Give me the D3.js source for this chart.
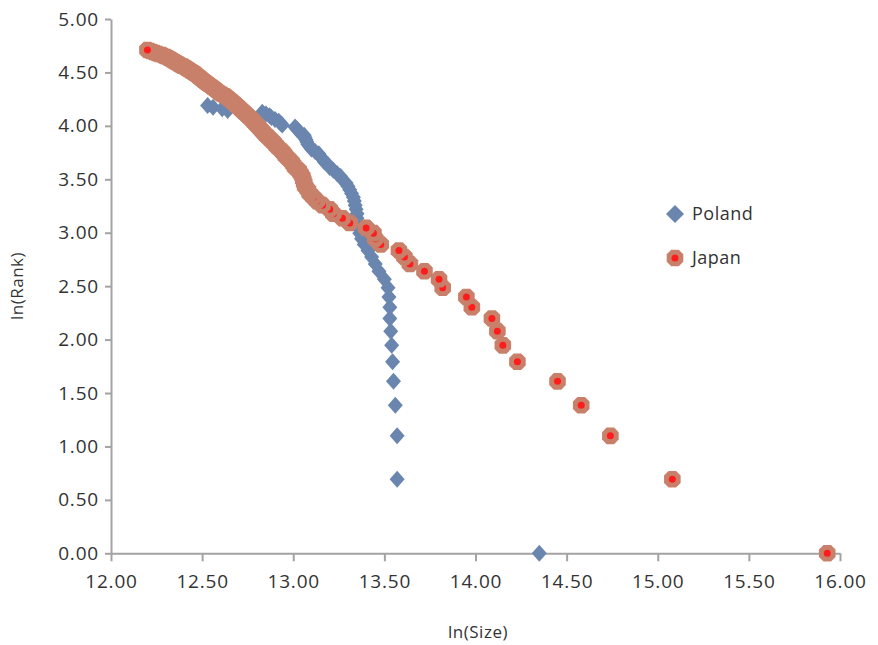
<!DOCTYPE html>
<html>
<head>
<meta charset="utf-8">
<script src="https://cdn.jsdelivr.net/npm/d3@7"></script>
<style>
  html, body { margin: 0; padding: 0; background: #fff; }
  svg { display: block; font-family: "Open Sans", "Noto Sans", sans-serif; }
</style>
</head>
<body>
<svg id="chart" width="878" height="645"></svg>
<script>
// ---- data ----
const seriesNames = ["Poland", "Japan"];

const polandLnSize = [14.35, 13.57, 13.57, 13.56, 13.55, 13.545, 13.54, 13.535, 13.53, 13.53,
  13.525, 13.52, 13.50, 13.47, 13.45, 13.43, 13.41, 13.39, 13.375, 13.365,
  13.36, 13.355, 13.35, 13.35, 13.345, 13.34, 13.335, 13.33, 13.32, 13.31,
  13.30, 13.29, 13.27, 13.26, 13.24, 13.22, 13.20, 13.19, 13.17, 13.16,
  13.15, 13.14, 13.12, 13.10, 13.09, 13.08, 13.075, 13.07, 13.065, 13.06,
  13.04, 13.03, 13.02, 13.01, 12.94, 12.93, 12.92, 12.90, 12.88, 12.87,
  12.85, 12.83, 12.64, 12.61, 12.56, 12.53];
const polandLnRank = [0.000, 0.693, 1.099, 1.386, 1.609, 1.792, 1.946, 2.079, 2.197, 2.303,
  2.398, 2.485, 2.565, 2.639, 2.708, 2.773, 2.833, 2.890, 2.944, 2.996,
  3.045, 3.091, 3.135, 3.178, 3.219, 3.258, 3.296, 3.332, 3.367, 3.401,
  3.434, 3.466, 3.497, 3.526, 3.555, 3.584, 3.611, 3.638, 3.664, 3.689,
  3.714, 3.738, 3.761, 3.784, 3.807, 3.829, 3.850, 3.871, 3.892, 3.912,
  3.932, 3.951, 3.970, 3.989, 4.007, 4.025, 4.043, 4.060, 4.078, 4.094,
  4.111, 4.127, 4.143, 4.159, 4.174, 4.190];

const japanLnSize = [15.93, 15.08, 14.74, 14.58, 14.45, 14.23, 14.15, 14.12, 14.09, 13.98,
  13.95, 13.82, 13.80, 13.72, 13.64, 13.61, 13.58, 13.48, 13.45, 13.44,
  13.40, 13.31, 13.27, 13.22, 13.20, 13.16, 13.13, 13.11, 13.09, 13.08,
  13.065, 13.06, 13.055, 13.05, 13.04, 13.03, 13.01, 13.00, 12.99, 12.975,
  12.96, 12.95, 12.94, 12.925, 12.91, 12.90, 12.89, 12.875, 12.865, 12.85,
  12.84, 12.83, 12.82, 12.81, 12.80, 12.79, 12.78, 12.775, 12.76, 12.75,
  12.74, 12.73, 12.72, 12.71, 12.70, 12.69, 12.68, 12.67, 12.66, 12.65,
  12.64, 12.63, 12.615, 12.60, 12.59, 12.58, 12.57, 12.56, 12.55, 12.54,
  12.53, 12.52, 12.51, 12.50, 12.495, 12.485, 12.475, 12.47, 12.46, 12.45,
  12.44, 12.43, 12.42, 12.41, 12.40, 12.385, 12.375, 12.365, 12.355, 12.345,
  12.335, 12.325, 12.315, 12.305, 12.29, 12.28, 12.26, 12.245, 12.23, 12.215,
  12.20];
const japanLnRank = [0.000, 0.693, 1.099, 1.386, 1.609, 1.792, 1.946, 2.079, 2.197, 2.303,
  2.398, 2.485, 2.565, 2.639, 2.708, 2.773, 2.833, 2.890, 2.944, 2.996,
  3.045, 3.091, 3.135, 3.178, 3.219, 3.258, 3.296, 3.332, 3.367, 3.401,
  3.434, 3.466, 3.497, 3.526, 3.555, 3.584, 3.611, 3.638, 3.664, 3.689,
  3.714, 3.738, 3.761, 3.784, 3.807, 3.829, 3.850, 3.871, 3.892, 3.912,
  3.932, 3.951, 3.970, 3.989, 4.007, 4.025, 4.043, 4.060, 4.078, 4.094,
  4.111, 4.127, 4.143, 4.159, 4.174, 4.190, 4.205, 4.220, 4.234, 4.248,
  4.263, 4.277, 4.290, 4.304, 4.317, 4.331, 4.344, 4.357, 4.369, 4.382,
  4.394, 4.407, 4.419, 4.431, 4.443, 4.454, 4.466, 4.477, 4.489, 4.500,
  4.511, 4.522, 4.533, 4.543, 4.554, 4.564, 4.575, 4.585, 4.595, 4.605,
  4.615, 4.625, 4.635, 4.644, 4.654, 4.663, 4.673, 4.682, 4.691, 4.700,
  4.710];

const xTicks = [12.0, 12.5, 13.0, 13.5, 14.0, 14.5, 15.0, 15.5, 16.0];
const yTicks = [0.0, 0.5, 1.0, 1.5, 2.0, 2.5, 3.0, 3.5, 4.0, 4.5, 5.0];
const xTitle = "ln(Size)";
const yTitle = "ln(Rank)";

// ---- drawing ----
const svg = d3.select("#chart");
const x = d3.scaleLinear().domain([12, 16]).range([111, 840]);
const y = d3.scaleLinear().domain([0, 5]).range([553.3, 19]);

const axisColor = "#a3a3a3";
const textColor = "#333333";
const blue = "#6a86af";
const salmon = "#c8806a";
const red = "#ff1c1c";

const xAxis = svg.append("g")
  .attr("transform", `translate(0,${y(0)})`)
  .call(d3.axisBottom(x).tickValues(xTicks).tickFormat(d3.format(".2f"))
    .tickSize(8).tickSizeOuter(0).tickPadding(13));
const yAxis = svg.append("g")
  .attr("transform", `translate(${x(12)},0)`)
  .call(d3.axisLeft(y).tickValues(yTicks).tickFormat(d3.format(".2f"))
    .tickSize(6).tickSizeOuter(0).tickPadding(6));

[xAxis, yAxis].forEach(g => {
  g.select(".domain").attr("stroke", axisColor).attr("stroke-width", 2);
  g.selectAll(".tick line").attr("stroke", axisColor).attr("stroke-width", 2);
  g.selectAll(".tick text").attr("fill", textColor)
    .style("font-size", "19px").style("letter-spacing", "0.8px")
    .style("font-family", "'Open Sans', sans-serif");
});

// axis titles
svg.append("text")
  .attr("x", 478).attr("y", 638)
  .attr("text-anchor", "middle")
  .attr("fill", textColor)
  .style("font-size", "17px").style("letter-spacing", "0.5px")
  .text(xTitle);
svg.append("text")
  .attr("transform", "translate(23,286) rotate(-90)")
  .attr("text-anchor", "middle")
  .attr("fill", textColor)
  .style("font-size", "17px").style("letter-spacing", "0.5px")
  .text(yTitle);

const diamond = (hw, hh) => `M0,${-hh}L${hw},0L0,${hh}L${-hw},0Z`;
// rounded-corner octagon marker like the reference
const octagon = (r) => {
  const c = r * 0.45;
  return `M${-c},${-r}L${c},${-r}L${r},${-c}L${r},${c}L${c},${r}L${-c},${r}L${-r},${c}L${-r},${-c}Z`;
};

// Poland series (drawn first)
const polandData = polandLnSize.map((v, i) => ({ x: v, y: polandLnRank[i] }));
svg.append("g").selectAll("path")
  .data(polandData).join("path")
  .attr("transform", d => `translate(${x(d.x)},${y(d.y)})`)
  .attr("d", diamond(7.5, 8.5))
  .attr("fill", blue);

// Japan series (drawn on top)
const japanData = japanLnSize.map((v, i) => ({ x: v, y: japanLnRank[i] }));
const jp = svg.append("g").selectAll("g")
  .data(japanData).join("g")
  .attr("transform", d => `translate(${x(d.x)},${y(d.y)})`);
jp.append("path").attr("d", octagon(8.3)).attr("fill", salmon);
jp.append("circle").attr("r", 3.5).attr("fill", red);

// legend
const legend = svg.append("g");
legend.append("path")
  .attr("transform", "translate(675,214)")
  .attr("d", diamond(9, 9))
  .attr("fill", blue);
const lj = legend.append("g").attr("transform", "translate(675,258)");
lj.append("path").attr("d", octagon(8.3)).attr("fill", salmon);
lj.append("circle").attr("r", 3.5).attr("fill", red);
legend.selectAll("text.lbl")
  .data([{ t: seriesNames[0], y: 214 }, { t: seriesNames[1], y: 258 }])
  .join("text").attr("class", "lbl")
  .attr("x", 692).attr("y", d => d.y).attr("dy", "0.35em")
  .attr("fill", textColor)
  .style("font-size", "18px").style("letter-spacing", "0.5px")
  .text(d => d.t);
</script>
</body>
</html>
